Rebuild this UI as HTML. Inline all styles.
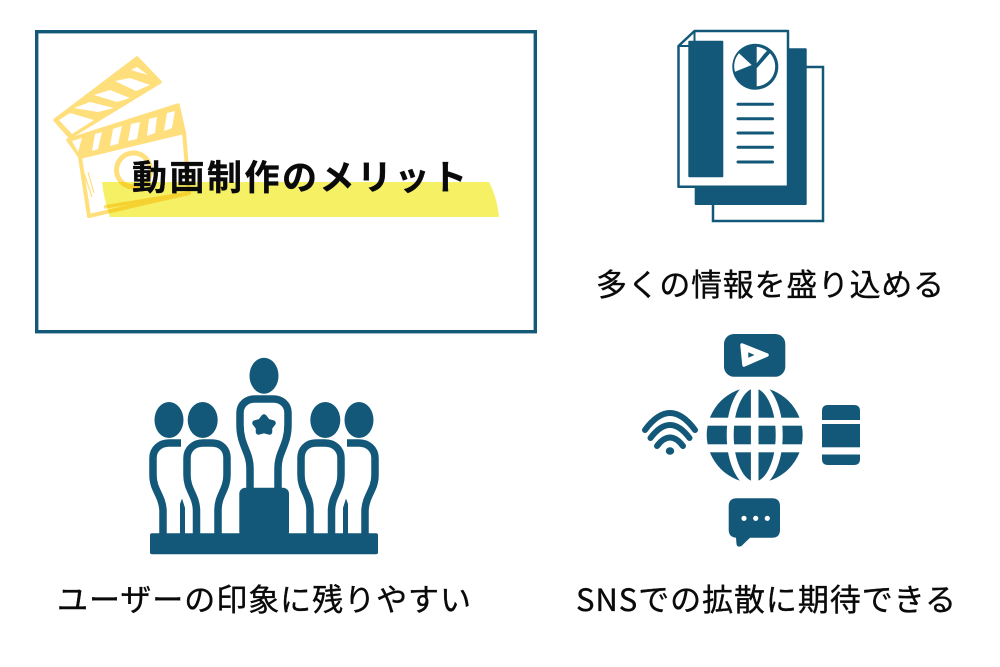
<!DOCTYPE html>
<html lang="ja">
<head>
<meta charset="utf-8">
<style>
html,body{margin:0;padding:0;background:#fff;width:1000px;height:667px;overflow:hidden}
svg{display:block}
text{font-family:"Noto Sans CJK JP","Liberation Sans",sans-serif;fill:#0a0a0a}
.l{stroke:#0a0a0a;stroke-width:.35px}
</style>
</head>
<body>
<svg width="1000" height="667" viewBox="0 0 1000 667" xmlns="http://www.w3.org/2000/svg">
<rect width="1000" height="667" fill="#fff"/>

<!-- Frame -->
<rect x="36.7" y="31.7" width="498.6" height="300" fill="#fff" stroke="#135878" stroke-width="3.4"/>

<!-- Clapperboard -->
<g stroke-linejoin="round">
  <polygon points="55,120 137,58 160,82 70,137" fill="#ffdf7c" stroke="#ffdf7c" stroke-width="3.5"/>
  <g fill="#fff">
    <polygon points="137,67 148,75 131,70"/>
    <polygon points="115,81 130,78 150,85 136,91"/>
    <polygon points="94,95 110,90 130,98 117,102"/>
    <polygon points="74,108 90,102 114,108 98,112"/>
    <polygon points="59,120 70,113 94,120 72,134"/>
  </g>
  <polygon points="68,140 178,105 184,132 80,157" fill="#ffdf7c" stroke="#ffdf7c" stroke-width="3.5"/>
  <g fill="#fff">
    <polygon points="72,141 82,138 78,152"/>
    <polygon points="95,134 102,132 98,149 92,151"/>
    <polygon points="113,129 122,126 118,144 110,146"/>
    <polygon points="131,124 140,122 137,139 128,141"/>
    <polygon points="149,119 157,117 155,133 147,136"/>
    <polygon points="167,113 175,111 172,128 164,131"/>
  </g>
  <polygon points="80,157 184,132 189,193 89,216" fill="#fff" stroke="#ffdf7c" stroke-width="4"/>
  <circle cx="133.5" cy="170" r="17" fill="none" stroke="#ffdf7c" stroke-width="5"/>
  <path d="M84,173 L92,197 M88,172 L94,193" stroke="#ffdf7c" stroke-width="1.2" fill="none"/>
  <path d="M104,207 L189,193" stroke="#ffdf7c" stroke-width="3.5" fill="none"/>
</g>

<!-- Highlight -->
<path d="M102,182 H489 Q497,197 499,217 H110 Q104,200 102,182 Z" fill="#f5ee4e" opacity="0.88" style="mix-blend-mode:multiply"/>

<!-- Title -->
<text class="l" x="132" y="190" font-size="35" font-weight="700" textLength="335" lengthAdjust="spacing">動画制作のメリット</text>

<!-- Documents icon -->
<rect x="713" y="67" width="110" height="154" fill="#fff" stroke="#135878" stroke-width="2.5"/>
<rect x="694.7" y="48.3" width="112" height="156.7" rx="1" fill="#135878"/>
<polygon points="678.5,46 694.5,31 788,31 788,186.7 678.5,186.7" fill="#fff" stroke="#135878" stroke-width="2.5" stroke-linejoin="round"/>
<path d="M678.5,46 H694.5 V31" fill="none" stroke="#135878" stroke-width="2"/>
<rect x="688.3" y="40.7" width="35" height="136.6" rx="1" fill="#135878"/>
<circle cx="755.3" cy="66.7" r="23" fill="#135878"/>
<path d="M735,71.7 L751.7,65 L739,53.3 A19.5,19.5 0 0 0 735,71.7 Z" fill="#fff"/>
<path d="M756.7,46.7 L756.7,63.3 L764,54 L767,51 A19.5,19.5 0 0 0 756.7,46.7 Z" fill="#fff"/>
<path d="M756.7,86.4 L756.7,68.3 L770,53.3 A19.8,19.8 0 0 1 756.7,86.4 Z" fill="#fff"/>
<g stroke="#135878" stroke-width="3" stroke-linecap="round">
  <path d="M738,104.3 H772.5"/>
  <path d="M738,118.7 H772.5"/>
  <path d="M738,133 H772.5"/>
  <path d="M738,147.3 H772.5"/>
  <path d="M738,162 H772.5"/>
</g>
<text class="l" x="596" y="296" font-size="31" textLength="348" lengthAdjust="spacing">多くの情報を盛り込める</text>

<!-- People icon -->
<g fill="#135878">
  <ellipse cx="264" cy="375.7" rx="14.5" ry="18"/>
  <ellipse cx="202.7" cy="420" rx="15" ry="18"/>
  <ellipse cx="169" cy="420" rx="14.5" ry="18"/>
  <ellipse cx="325.3" cy="420" rx="15" ry="18"/>
  <ellipse cx="359" cy="420" rx="14.5" ry="18"/>
  <rect x="239.3" y="487.7" width="49.7" height="50" rx="6"/>
  <rect x="150" y="533.3" width="228" height="21" rx="2"/>
</g>
<g fill="none" stroke="#135878" stroke-width="7.5" stroke-linejoin="round">
  <path d="M250,489 V468 C250,452 240,445 240,425 V413 C240,404 247,399 255,399 H273 C281,399 288,404 288,413 V425 C288,445 278,452 278,468 V489"/>
  <path d="M196.5,534 V510 C196,495 187,490 187,475 V458 C187,449 194,443 203,443 H212 C221,443 227,449 227,458 V475 C227,490 218,495 218,510 V534"/>
  <path d="M331.5,534 V510 C332,495 341,490 341,475 V458 C341,449 334,443 325,443 H316 C307,443 301,449 301,458 V475 C301,490 310,495 310,510 V534"/>
  <path d="M163,534 V510 C162,495 153,490 153,475 V458 C153,449 160,443 169,443 H181"/>
  <path d="M365,534 V510 C366,495 375,490 375,475 V458 C375,449 368,443 359,443 H347"/>
</g>
<path d="M180.5,534 V504 L182,500 L184.5,508 V534 Z" fill="#135878" stroke="#135878" stroke-width="1"/>
<path d="M347.5,534 V504 L346,500 L343.5,508 V534 Z" fill="#135878" stroke="#135878" stroke-width="1"/>
<polygon points="264,417 267.5,421.5 273,423 269.5,427.5 269.5,432 264,430.5 258.5,432 258.5,427.5 255,423 260.5,421.5" fill="#135878" stroke="#135878" stroke-width="5.5" stroke-linejoin="round"/>
<text class="l" x="57" y="611" font-size="31" textLength="414" lengthAdjust="spacing">ユーザーの印象に残りやすい</text>

<!-- Globe -->
<circle cx="754.7" cy="435" r="48" fill="#135878"/>
<ellipse cx="754.7" cy="435" rx="24.5" ry="50" fill="none" stroke="#fff" stroke-width="7"/>
<rect x="750.9" y="384" width="7.6" height="102" fill="#fff"/>
<rect x="703" y="417.7" width="104" height="8" fill="#fff"/>
<rect x="703" y="444.3" width="104" height="8" fill="#fff"/>

<!-- Wifi -->
<g fill="none" stroke="#135878" stroke-width="6" stroke-linecap="round">
  <path d="M657,446 Q670,429 683,446"/>
  <path d="M650.5,438 Q670,412 689.5,438"/>
  <path d="M645,430 Q670,396 695,430"/>
</g>
<ellipse cx="670" cy="451" rx="4.2" ry="3.7" fill="#135878"/>

<!-- Phone -->
<path d="M822,420 V411 Q822,405 828,405 H854 Q860,405 860,411 V420 Z" fill="#135878"/>
<rect x="822" y="424" width="38" height="23.3" fill="#135878"/>
<path d="M822,454.5 H860 V459 Q860,465 854,465 H828 Q822,465 822,459 Z" fill="#135878"/>

<!-- YouTube -->
<rect x="724" y="334" width="61.3" height="42.7" rx="10" fill="#135878"/>
<polygon points="742,345 767,355 744,365" fill="#fff" stroke="#fff" stroke-width="3.5" stroke-linejoin="round"/>
<polygon points="748.3,352.3 754.5,355 748.3,357.7" fill="#135878"/>

<!-- Chat -->
<path d="M736.7,498.3 H772 Q780,498.3 780,506.3 V529.7 Q780,537.7 772,537.7 H750 L741.5,546 Q737,548 736.5,544 L736,537.7 Q728.7,537 728.7,529.7 V506.3 Q728.7,498.3 736.7,498.3 Z" fill="#135878"/>
<g fill="#fff">
  <circle cx="744" cy="518.3" r="2.6"/>
  <circle cx="755.7" cy="518.3" r="2.6"/>
  <circle cx="767.3" cy="518.3" r="2.6"/>
</g>
<text class="l" x="576" y="611" font-size="31" textLength="380" lengthAdjust="spacing">SNSでの拡散に期待できる</text>
</svg>
</body>
</html>
